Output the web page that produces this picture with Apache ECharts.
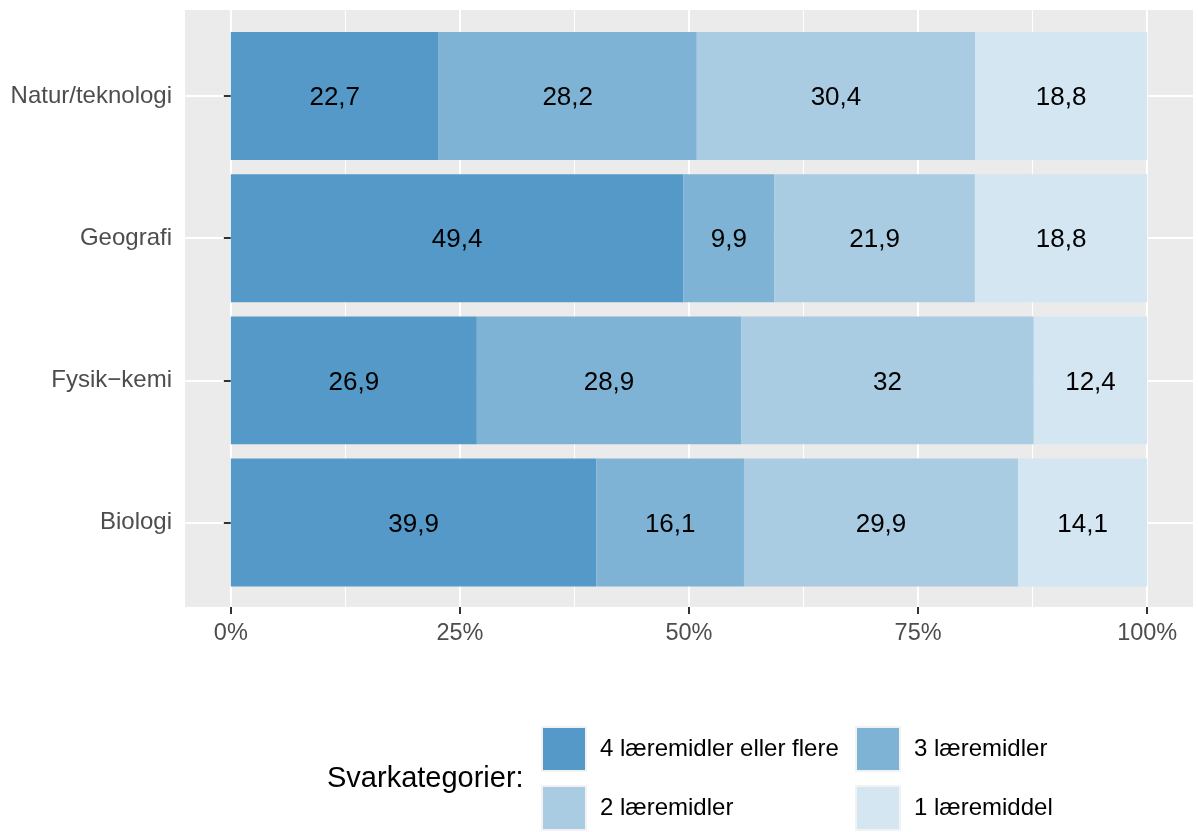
<!DOCTYPE html>
<html>
<head>
<meta charset="utf-8">
<script src="https://cdn.jsdelivr.net/npm/echarts@6/dist/echarts.min.js"></script>
<style>
  html, body { margin: 0; padding: 0; background: #fff; }
  #chart { width: 1198px; height: 832px; }
</style>
</head>
<body>
<div id="chart"></div>
<script>
// fag (nederst -> øverst)
const categories = ['Biologi', 'Fysik\u2212kemi', 'Geografi', 'Natur/teknologi'];
const answerCats = ['4 læremidler eller flere', '3 læremidler', '2 læremidler', '1 læremiddel'];
const colors = ['#5499C7', '#7FB3D5', '#A9CCE3', '#D4E6F1'];

// andele i procent, samme rækkefølge som categories
const fourOrMore = [39.9, 26.9, 49.4, 22.7];
const three = [16.1, 28.9, 9.9, 28.2];
const two = [29.9, 32, 21.9, 30.4];
const one = [14.1, 12.4, 18.8, 18.8];
const xTicks = [0, 25, 50, 75, 100];

const seriesValues = [fourOrMore, three, two, one];
// position = fill: hver søjle skaleres til 100 %
const totals = categories.map((c, i) => seriesValues.reduce((s, arr) => s + arr[i], 0));

const chart = echarts.init(document.getElementById('chart'));
const font = "'Liberation Sans', Arial, sans-serif";

// legend i 2 x 2, en legend pr. felt
const legendPos = [[541, 726], [855, 726], [541, 785], [855, 785]];
const legends = answerCats.map((name, k) => ({
  data: [name],
  left: legendPos[k][0],
  top: legendPos[k][1],
  padding: 0,
  itemWidth: 44, itemHeight: 44,
  icon: 'rect',
  selectedMode: false,
  itemStyle: { borderColor: '#F2F2F2', borderWidth: 2 },
  textStyle: { fontSize: 24, color: '#000', padding: [2, 0, 0, 9] }
}));

const option = {
  animation: false,
  textStyle: { fontFamily: font },
  title: {
    text: 'Svarkategorier:',
    left: 322,
    top: 759,
    textStyle: { fontSize: 29, fontWeight: 'normal', color: '#000', fontFamily: font }
  },
  legend: legends,
  grid: [
    // grå panel
    { left: 185, top: 10, width: 1008, height: 597, show: true, backgroundColor: '#EBEBEB', borderWidth: 0 },
    // x-akse 0-100 % med gitterlinjer
    { left: 230.8, top: 10, width: 916.4, height: 597 },
    // søjler
    { left: 185, top: 25, width: 1008, height: 568.6 }
  ],
  xAxis: [
    { gridIndex: 0, type: 'value', show: false },
    {
      gridIndex: 1, type: 'value', min: 0, max: 100, interval: 25,
      axisLine: { show: false },
      axisTick: { show: true, length: 7, lineStyle: { color: '#333', width: 2 } },
      axisLabel: {
        fontSize: 23.5, color: '#4D4D4D', margin: 15,
        formatter: v => xTicks.includes(v) ? v + '%' : ''
      },
      splitLine: { show: true, lineStyle: { color: '#fff', width: 2.1 } },
      minorTick: { show: false, splitNumber: 2 },
      minorSplitLine: { show: true, lineStyle: { color: '#fff', width: 1.1 } }
    },
    { gridIndex: 2, type: 'value', min: -5, max: 105, show: false }
  ],
  yAxis: [
    { gridIndex: 0, type: 'value', show: false },
    { gridIndex: 1, type: 'value', show: false },
    {
      gridIndex: 2, type: 'category', data: categories,
      axisLine: { show: false },
      axisTick: { show: true, alignWithLabel: true, length: 7, lineStyle: { color: '#333', width: 2 } },
      axisLabel: { fontSize: 24, color: '#4D4D4D', margin: 13, padding: [3, 0, 0, 0] },
      splitLine: { show: true, alignWithLabel: true, lineStyle: { color: '#fff', width: 2.1 } }
    }
  ],
  series: answerCats.map((name, k) => ({
    name: name,
    type: 'bar',
    stack: 'total',
    xAxisIndex: 2,
    yAxisIndex: 2,
    barWidth: '90%',
    itemStyle: { color: colors[k], borderWidth: 0 },
    label: {
      show: true,
      position: 'inside',
      offset: [0, 2],
      fontSize: 26,
      color: '#000',
      formatter: p => String(p.data.raw).replace('.', ',')
    },
    data: seriesValues[k].map((v, i) => ({ value: v / totals[i] * 100, raw: v }))
  }))
};

chart.setOption(option);
window.addEventListener('resize', function() {
  chart.resize();
});
</script>
</body>
</html>
